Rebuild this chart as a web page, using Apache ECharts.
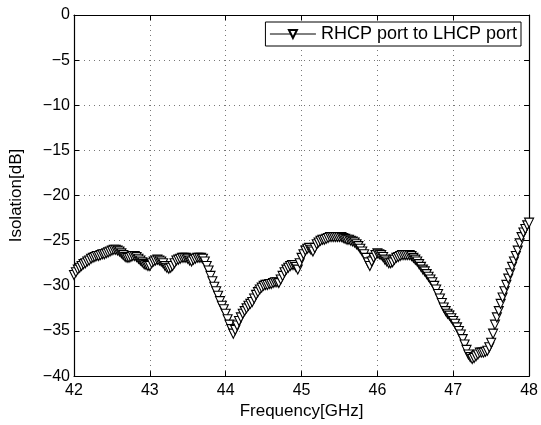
<!DOCTYPE html>
<html>
<head>
<meta charset="utf-8">
<script src="https://cdn.jsdelivr.net/npm/echarts@6/dist/echarts.min.js"></script>
<style>
  html, body { margin: 0; padding: 0; background: #fff; }
  #chart { width: 541px; height: 425px; }
</style>
</head>
<body>
<div id="chart"></div>
<script>
// frequency samples, 42 to 48 GHz in 25 MHz steps
var freqs = [];
for (var i = 0; i <= 240; i++) freqs.push(+(42 + i * 0.025).toFixed(3));

// isolation [dB]
var isolation = [
  -28.8, -28.5, -28.2, -28.0, -27.8, -27.6, -27.5, -27.3, -27.2, -27.0,
  -26.9, -26.8, -26.7, -26.7, -26.6, -26.5, -26.5, -26.4, -26.3, -26.2,
  -26.1, -26.0, -26.0, -26.1, -26.2, -26.4, -26.6, -26.8, -26.9, -26.9,
  -26.8, -26.7, -26.7, -26.8, -27.0, -27.2, -27.4, -27.6, -27.7, -27.8,
  -27.8, -27.5, -27.3, -27.2, -27.1, -27.2, -27.3, -27.5, -27.8, -28.0,
  -28.1, -28.0, -27.8, -27.5, -27.2, -27.1, -27.0, -26.9, -26.9, -26.9,
  -27.0, -27.2, -27.3, -27.1, -27.0, -26.9, -26.9, -26.9, -27.0, -27.3,
  -27.8, -28.3, -28.9, -29.5, -30.1, -30.6, -31.1, -31.7, -32.2, -32.6,
  -33.1, -33.7, -34.3, -34.8, -35.3, -34.9, -34.4, -33.9, -33.5, -33.1,
  -32.8, -32.5, -32.2, -32.0, -31.8, -31.4, -31.0, -30.7, -30.4, -30.2,
  -30.0, -29.9, -29.9, -29.8, -29.8, -29.7, -29.6, -29.6, -29.7, -29.3,
  -28.9, -28.5, -28.2, -28.0, -27.8, -27.7, -27.7, -27.9, -28.2, -27.5,
  -26.9, -26.5, -26.1, -25.9, -25.8, -26.0, -26.2, -25.8, -25.4, -25.2,
  -25.0, -24.9, -24.9, -24.8, -24.7, -24.6, -24.6, -24.6, -24.6, -24.6,
  -24.6, -24.6, -24.7, -24.8, -24.9, -24.9, -25.0, -25.1, -25.2, -25.4,
  -25.6, -25.9, -26.2, -26.5, -26.9, -27.4, -27.8, -27.3, -26.9, -26.6,
  -26.4, -26.5, -26.6, -26.8, -27.1, -27.3, -27.5, -27.5, -27.4, -27.1,
  -26.9, -26.8, -26.7, -26.6, -26.6, -26.6, -26.6, -26.6, -26.7, -26.9,
  -27.1, -27.3, -27.6, -27.9, -28.2, -28.4, -28.7, -29.0, -29.3, -29.6,
  -30.0, -30.4, -30.9, -31.4, -31.9, -32.4, -32.8, -33.1, -33.3, -33.6,
  -33.9, -34.2, -34.6, -35.0, -35.4, -35.9, -36.5, -37.1, -37.6, -37.9,
  -38.1, -38.0, -37.8, -37.6, -37.4, -37.4, -37.4, -37.3, -37.2, -36.8,
  -36.3, -35.3, -34.3, -33.5, -32.8, -32.0, -31.3, -30.6, -29.9, -29.2,
  -28.6, -27.9, -27.3, -26.7, -26.1, -25.3, -24.6, -24.1, -23.7, -23.3,
  -23.0
];

var seriesName = 'RHCP port to LHCP port';

var font = 'Liberation Sans, Arial, sans-serif';
var pts = freqs.map(function (f, k) { return [f, isolation[k]]; });

var gridLine = { show: true, lineStyle: { color: '#777', type: [1, 4], width: 1 } };
var frame = { show: true, onZero: false, lineStyle: { color: '#000', width: 1.2 } };
var tickIn = { show: true, inside: true, length: 5, lineStyle: { color: '#000' } };

var option = {
  animation: false,
  backgroundColor: '#fff',
  grid: { left: 72, right: 11, top: 15, bottom: 48 },
  legend: {
    data: [seriesName],
    right: 20, top: 22,
    itemWidth: 46, itemHeight: 10, itemGap: 4,
    padding: [3, 4, 3, 4],
    borderColor: '#000', borderWidth: 1,
    backgroundColor: '#fff',
    lineStyle: { width: 1 },
    textStyle: { fontFamily: font, fontSize: 18, color: '#000' }
  },
  xAxis: [{
    type: 'value', min: 42, max: 48, interval: 1,
    name: 'Frequency[GHz]', nameLocation: 'middle', nameGap: 26,
    nameTextStyle: { fontFamily: font, fontSize: 17, color: '#000' },
    axisLine: frame, axisTick: tickIn,
    axisLabel: { fontFamily: font, fontSize: 16, color: '#000', margin: 6 },
    splitLine: gridLine
  }, {
    type: 'value', min: 42, max: 48, interval: 1, position: 'top',
    axisLine: frame, axisTick: tickIn,
    axisLabel: { show: false }, splitLine: { show: false }
  }],
  yAxis: [{
    type: 'value', min: -40, max: 0, interval: 5,
    name: 'Isolation[dB]', nameLocation: 'middle', nameGap: 49,
    nameTextStyle: { fontFamily: font, fontSize: 17, color: '#000' },
    axisLine: frame, axisTick: tickIn,
    axisLabel: {
      fontFamily: font, fontSize: 16, color: '#000', margin: 4,
      formatter: function (v) { return String(v).replace('-', '\u2212'); }
    },
    splitLine: gridLine
  }, {
    type: 'value', min: -40, max: 0, interval: 5, position: 'right',
    axisLine: frame, axisTick: tickIn,
    axisLabel: { show: false }, splitLine: { show: false }
  }],
  series: [{
    name: seriesName,
    type: 'line',
    data: pts,
    showAllSymbol: true,
    symbol: 'triangle',
    symbolRotate: 180,
    symbolSize: 9,
    lineStyle: { color: '#000', width: 1 },
    itemStyle: { color: '#fff', borderColor: '#000', borderWidth: 1.1 },
    z: 3
  }]
};

var chart = echarts.init(document.getElementById('chart'));
chart.setOption(option);
</script>
</body>
</html>
